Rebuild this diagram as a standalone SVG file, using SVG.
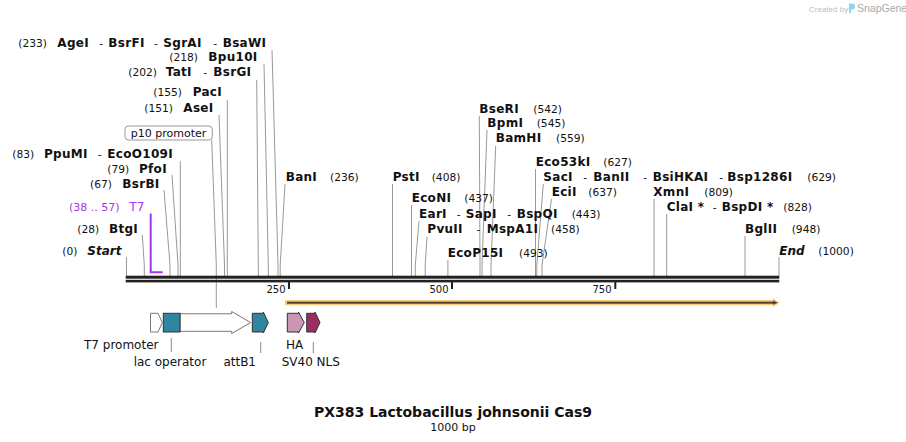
<svg xmlns="http://www.w3.org/2000/svg" width="906" height="442" viewBox="0 0 906 442">
<style>
.b{font-family:"DejaVu Sans",Verdana,sans-serif;font-weight:bold;font-size:12px;letter-spacing:0.3px;fill:#111}
.bi{font-family:"DejaVu Sans",Verdana,sans-serif;font-weight:bold;font-style:italic;font-size:12px;fill:#111}
.n{font-family:"DejaVu Sans",Verdana,sans-serif;font-size:10.7px;fill:#111}
.f{font-family:"DejaVu Sans",Verdana,sans-serif;font-size:12px;fill:#111}
.t{font-family:"DejaVu Sans",Verdana,sans-serif;font-size:10px;fill:#111}
.p{fill:#a336f0}
.lead{stroke:#999;stroke-width:1;fill:none}
.fl{stroke:#888;stroke-width:1;fill:none}
.feat{stroke:#333;stroke-width:1}
</style>
<rect width="906" height="442" fill="#fff"/>

<g id="watermark">
<text x="809" y="11.5" font-family="Liberation Sans,sans-serif" font-size="8" fill="#bbb">Created by</text>
<path d="M849 3.5 h3 a3 3 0 0 1 0 6 h-1 v3.5 h-2 z" fill="#8fd3f2"/>
<text x="857" y="11.8" font-family="Liberation Sans,sans-serif" font-size="10.5" fill="#aaa">SnapGene</text>
</g>

<g id="connectors">
<polyline class="lead" points="126.5,257 126.5,276"/>
<polyline class="lead" points="142.3,235 144.3,265 144.3,276"/>
<polyline class="lead" points="164,190 170,265 170,276"/>
<polyline class="lead" points="172,175 178,265 178,276"/>
<polyline class="lead" points="180.3,161 180.3,276"/>
<polyline class="lead" points="219,115 224.5,265 224.5,276"/>
<polyline class="lead" points="227.3,100 227.3,276"/>
<polyline class="lead" points="256.7,80 258.3,265 258.3,276"/>
<polyline class="lead" points="264,64 268.3,265 268.3,276"/>
<polyline class="lead" points="272,50 278,265 278,276"/>
<polyline class="lead" points="285,184 280.2,265 280.2,276"/>
<polyline class="lead" points="392.5,184 392.5,276"/>
<polyline class="lead" points="411.5,205 411.5,276"/>
<polyline class="lead" points="419,221 415.3,265 415.3,276"/>
<polyline class="lead" points="427,237 425.2,265 425.2,276"/>
<polyline class="lead" points="447.9,260 447.9,276"/>
<polyline class="lead" points="479.3,116 480,265 480,276"/>
<polyline class="lead" points="487,130 482,265 482,276"/>
<polyline class="lead" points="495.7,146 491,265 491,276"/>
<polyline class="lead" points="535.5,169 535.5,276"/>
<polyline class="lead" points="543.3,184 536.8,265 536.8,276"/>
<polyline class="lead" points="551.5,199 542,265 542,276"/>
<polyline class="lead" points="654,199 654,276"/>
<polyline class="lead" points="666.7,214 666.7,276"/>
<polyline class="lead" points="745,236 745,276"/>
<polyline class="lead" points="779,257 779,276"/>
<polyline class="lead" points="211.7,140 216.3,265 216.3,308"/>
<polyline class="fl" points="171.3,338 171.3,352"/>
<polyline class="fl" points="260.7,342 260.7,353"/>
<polyline class="fl" points="313.3,342 313.3,353"/>
</g>

<g id="backbone">
<rect x="125.7" y="275.7" width="653.6" height="3" fill="#222"/>
<rect x="125.7" y="279.8" width="653.6" height="2.6" fill="#222"/>
<rect x="288" y="282" width="2" height="7" fill="#222"/>
<rect x="451" y="282" width="2" height="7" fill="#222"/>
<rect x="614.3" y="282" width="2" height="7" fill="#222"/>
<text class="t" x="285.5" y="293" text-anchor="end">250</text>
<text class="t" x="448.5" y="293" text-anchor="end">500</text>
<text class="t" x="611.5" y="293" text-anchor="end">750</text>
</g>

<g id="T7-primer">
<polyline points="150.7,213.5 150.7,272.3 162.7,272.3" fill="none" stroke="#a336f0" stroke-width="2"/>
<text class="f p" x="69" y="211"><tspan style="font-size:11px">(38 .. 57)</tspan><tspan x="129.3">T7</tspan></text>
</g>

<g id="Cas9">
<polygon points="285,300 773,300 773,298.3 779.5,302.7 773,307 773,305.3 285,305.3" fill="#f9c977"/>
<rect x="287" y="301.7" width="487" height="2" fill="#4d4437"/>
<polygon points="773,300.6 777.8,302.7 773,304.8" fill="#4d4437"/>
</g>

<g id="T7-promoter">
<polygon points="150.5,313.3 158,313.3 162.3,322.6 158,332 150.5,332" fill="#fff" stroke="#777" stroke-width="1"/>
<text class="f" x="84" y="349">T7 promoter</text>
</g>
<g id="p10-promoter">
<polygon points="180,313.8 231.7,313.8 231.7,311.5 250.7,322.6 231.7,333.5 231.7,331.3 180,331.3" fill="#fff" stroke="#777" stroke-width="1"/>
<rect x="125" y="126" width="87.3" height="14" rx="3.5" fill="#fff" stroke="#999" stroke-width="1"/>
<text class="f" x="168.6" y="137" text-anchor="middle" style="font-size:11px">p10 promoter</text>
</g>
<g id="lac-operator">
<rect class="feat" x="163.3" y="313.3" width="16.7" height="18.7" fill="#2f869e"/>
<text class="f" x="170" y="366" text-anchor="middle">lac operator</text>
</g>
<g id="attB1">
<polygon class="feat" points="252.3,313.3 263.3,313.3 263.3,312 268.3,322.6 263.3,333 263.3,332 252.3,332" fill="#2f869e"/>
<text class="f" x="239.7" y="366" text-anchor="middle">attB1</text>
</g>
<g id="HA">
<polygon class="feat" points="287.3,313.3 298.5,313.3 298.5,312 304.3,322.6 298.5,333 298.5,332 287.3,332" fill="#c997b3"/>
<text class="f" x="294.7" y="348.5" text-anchor="middle">HA</text>
</g>
<g id="SV40-NLS">
<polygon class="feat" points="306.7,313.3 315,313.3 315,312 320,322.6 315,333 315,332 306.7,332" fill="#9c2d60"/>
<text class="f" x="310.8" y="366" text-anchor="middle">SV40 NLS</text>
</g>

<g id="AgeI"><text y="46.5"><tspan class="n" x="18.3">(233)</tspan><tspan class="b" x="57.3">AgeI</tspan><tspan class="n" x="99.3">-</tspan><tspan class="b" x="108.3">BsrFI</tspan><tspan class="n" x="154">-</tspan><tspan class="b" x="163.3">SgrAI</tspan><tspan class="n" x="213.3">-</tspan><tspan class="b" x="222.7">BsaWI</tspan></text></g>
<g id="Bpu10I"><text y="60.5"><tspan class="n" x="169.3">(218)</tspan><tspan class="b" x="208.3">Bpu10I</tspan></text></g>
<g id="TatI"><text y="75.7"><tspan class="n" x="128.3">(202)</tspan><tspan class="b" x="165.7">TatI</tspan><tspan class="n" x="203.3">-</tspan><tspan class="b" x="213.3">BsrGI</tspan></text></g>
<g id="PacI"><text y="96"><tspan class="n" x="153.3">(155)</tspan><tspan class="b" x="192.7">PacI</tspan></text></g>
<g id="AseI"><text y="111.7"><tspan class="n" x="144.3">(151)</tspan><tspan class="b" x="183.3">AseI</tspan></text></g>
<g id="PpuMI"><text y="157.7"><tspan class="n" x="12.3">(83)</tspan><tspan class="b" x="44">PpuMI</tspan><tspan class="n" x="97.7">-</tspan><tspan class="b" x="107.3">EcoO109I</tspan></text></g>
<g id="PfoI"><text y="173.3"><tspan class="n" x="107.3">(79)</tspan><tspan class="b" x="139">PfoI</tspan></text></g>
<g id="BsrBI"><text y="187.7"><tspan class="n" x="90">(67)</tspan><tspan class="b" x="122.3">BsrBI</tspan></text></g>
<g id="BtgI"><text y="232.7"><tspan class="n" x="77.3">(28)</tspan><tspan class="b" x="109">BtgI</tspan></text></g>
<g id="Start"><text y="255"><tspan class="n" x="62.3">(0)</tspan><tspan class="bi" x="87.3">Start</tspan></text></g>
<g id="BanI"><text y="180.7"><tspan class="b" x="285.7">BanI</tspan><tspan class="n" x="330">(236)</tspan></text></g>
<g id="PstI"><text y="180.7"><tspan class="b" x="392.7">PstI</tspan><tspan class="n" x="431.7">(408)</tspan></text></g>
<g id="EcoNI"><text y="201.7"><tspan class="b" x="411.7">EcoNI</tspan><tspan class="n" x="464.3">(437)</tspan></text></g>
<g id="EarI"><text y="218.3"><tspan class="b" x="419">EarI</tspan><tspan class="n" x="456.7">-</tspan><tspan class="b" x="465.7">SapI</tspan><tspan class="n" x="507.3">-</tspan><tspan class="b" x="516.7">BspQI</tspan><tspan class="n" x="571.7">(443)</tspan></text></g>
<g id="PvuII"><text y="232.7"><tspan class="b" x="427.3">PvuII</tspan><tspan class="n" x="476.5">-</tspan><tspan class="b" x="486.7">MspA1I</tspan><tspan class="n" x="551">(458)</tspan></text></g>
<g id="EcoP15I"><text y="256.7"><tspan class="b" x="447.7">EcoP15I</tspan><tspan class="n" x="519">(493)</tspan></text></g>
<g id="BseRI"><text y="112.7"><tspan class="b" x="479.3">BseRI</tspan><tspan class="n" x="533.3">(542)</tspan></text></g>
<g id="BpmI"><text y="126.7"><tspan class="b" x="487.3">BpmI</tspan><tspan class="n" x="536.7">(545)</tspan></text></g>
<g id="BamHI"><text y="142.3"><tspan class="b" x="495.7">BamHI</tspan><tspan class="n" x="556">(559)</tspan></text></g>
<g id="Eco53kI"><text y="166"><tspan class="b" x="535.7">Eco53kI</tspan><tspan class="n" x="603.3">(627)</tspan></text></g>
<g id="SacI"><text y="180.7"><tspan class="b" x="543.3">SacI</tspan><tspan class="n" x="583.3">-</tspan><tspan class="b" x="593.3">BanII</tspan><tspan class="n" x="643.3">-</tspan><tspan class="b" x="652.7">BsiHKAI</tspan><tspan class="n" x="719.3">-</tspan><tspan class="b" x="727.3">Bsp1286I</tspan><tspan class="n" x="807.3">(629)</tspan></text></g>
<g id="EciI"><text y="196"><tspan class="b" x="551.7">EciI</tspan><tspan class="n" x="588.3">(637)</tspan></text></g>
<g id="XmnI"><text y="196"><tspan class="b" x="653.3">XmnI</tspan><tspan class="n" x="704.3">(809)</tspan></text></g>
<g id="ClaI"><text y="210.7"><tspan class="b" x="666.7">ClaI *</tspan><tspan class="n" x="712.7">-</tspan><tspan class="b" x="721.7">BspDI *</tspan><tspan class="n" x="783.3">(828)</tspan></text></g>
<g id="BglII"><text y="232.7"><tspan class="b" x="745">BglII</tspan><tspan class="n" x="791.7">(948)</tspan></text></g>
<g id="End"><text y="255"><tspan class="bi" x="779.3">End</tspan><tspan class="n" x="818.3">(1000)</tspan></text></g>

<g id="title">
<text x="453" y="417" text-anchor="middle" font-family="DejaVu Sans,Verdana,sans-serif" font-weight="bold" font-size="14" fill="#111">PX383 Lactobacillus johnsonii Cas9</text>
<text x="453" y="430.5" text-anchor="middle" font-family="DejaVu Sans,Verdana,sans-serif" font-size="11" fill="#111">1000 bp</text>
</g>
</svg>
